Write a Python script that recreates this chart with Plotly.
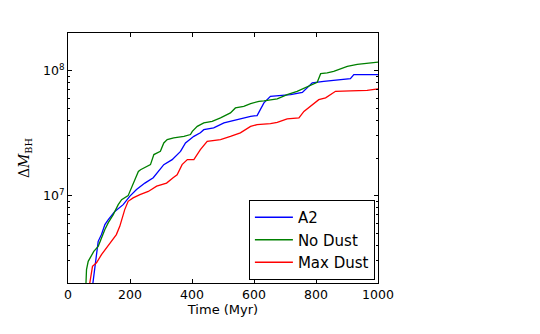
import plotly.graph_objects as go

# time (Myr) and cumulative black hole mass growth
t_a2 = [74, 86.5, 91.9, 97.4, 108, 119, 130, 151, 178, 199, 221, 248, 275, 296, 309, 336, 363, 379,
        406, 427, 438, 470, 503, 546, 589, 610, 632, 653, 686, 718, 756, 772, 788, 825, 868, 911,
        922, 954, 1000]
m_a2 = [1.5e6, 2.72e6, 3.19e6, 4.31e6, 4.88e6, 5.86e6, 6.43e6, 7.48e6, 8.47e6, 9.87e6, 1.12e7,
        1.26e7, 1.39e7, 1.61e7, 1.77e7, 1.94e7, 2.26e7, 2.64e7, 2.98e7, 3.18e7, 3.37e7, 3.48e7,
        3.82e7, 4.06e7, 4.31e7, 4.37e7, 5.52e7, 6.22e7, 6.31e7, 6.43e7, 6.70e7, 7.28e7, 7.98e7,
        8.20e7, 8.47e7, 8.63e7, 9.29e7, 9.34e7, 9.29e7]

t_nodust = [56, 59.7, 65.2, 75.8, 83.2, 97.4, 108, 119, 130, 146, 162, 173, 194, 205, 215, 227, 234,
            266, 277, 298, 309, 320, 341, 374, 395, 401, 417, 438, 465, 492, 524, 540, 567, 589,
            616, 632, 675, 707, 739, 772, 804, 815, 836, 857, 879, 901, 933, 965, 1000]
m_nodust = [1.5e6, 2.56e6, 2.98e6, 3.31e6, 3.58e6, 3.93e6, 4.61e6, 5.35e6, 6.08e6, 7.05e6, 8.47e6,
            9.29e6, 1.0e7, 1.16e7, 1.34e7, 1.56e7, 1.61e7, 1.77e7, 2.13e7, 2.26e7, 2.64e7, 2.81e7,
            2.90e7, 2.98e7, 3.08e7, 3.27e7, 3.58e7, 3.82e7, 3.93e7, 4.19e7, 4.59e7, 5.03e7, 5.18e7,
            5.45e7, 5.68e7, 5.72e7, 5.94e7, 6.43e7, 6.83e7, 7.41e7, 8.06e7, 9.46e7, 9.59e7, 9.87e7,
            1.04e8, 1.08e8, 1.12e8, 1.15e8, 1.17e8]

t_maxdust = [66, 70.3, 79, 91.9, 108, 124, 140, 156, 167, 183, 194, 210, 232, 259, 286, 318, 339,
             352, 368, 385, 406, 427, 449, 492, 524, 556, 589, 610, 653, 675, 707, 745, 761, 788,
             809, 831, 863, 911, 965, 1000]
m_maxdust = [1.5e6, 2.0e6, 2.72e6, 2.90e6, 3.37e6, 3.84e6, 4.31e6, 4.88e6, 5.68e6, 7.73e6, 9.0e6,
             9.59e6, 1.02e7, 1.08e7, 1.19e7, 1.26e7, 1.39e7, 1.47e7, 1.77e7, 1.94e7, 1.94e7, 2.33e7,
             2.72e7, 2.81e7, 2.98e7, 3.18e7, 3.58e7, 3.70e7, 3.77e7, 3.85e7, 4.11e7, 4.19e7, 4.72e7,
             5.35e7, 5.86e7, 6.05e7, 6.83e7, 6.89e7, 6.95e7, 7.14e7]

series = [("A2", t_a2, m_a2, "#0000ff"),
          ("No Dust", t_nodust, m_nodust, "#008000"),
          ("Max Dust", t_maxdust, m_maxdust, "#ff0000")]

fig = go.Figure()
for name, t, m, col in series:
    fig.add_trace(go.Scatter(x=t, y=m, mode="lines", name=name,
                             line=dict(color=col, width=1.3)))

minor_vals = [k * 10**e for e in (6, 7) for k in range(2, 10)] + [2e8]
axis_common = dict(showline=True, linecolor="black", linewidth=1, mirror="ticks",
                   ticks="inside", tickcolor="black", ticklen=4, showgrid=False,
                   zeroline=False, automargin=False,
                   tickfont=dict(size=12.5, color="black"))

fig.update_xaxes(range=[0, 1000], tickvals=[0, 200, 400, 600, 800, 1000],
                 title=dict(text="Time (Myr)", font=dict(size=13, color="black"), standoff=2),
                 **axis_common)
fig.update_yaxes(type="log", range=[6.301, 8.301], tickvals=[1e7, 1e8],
                 ticktext=["10<sup>7</sup>", "10<sup>8</sup>"],
                 minor=dict(tickvals=minor_vals, ticks="inside", ticklen=2, tickcolor="black"),
                 title=dict(text="Δ<i>M</i><sub>BH</sub>",
                            font=dict(size=14, color="black", family="DejaVu Serif"),
                            standoff=10),
                 **axis_common)

# the page body adds an 8px offset, so the margins are trimmed on top/left
fig.update_layout(
    width=540, height=334,
    margin=dict(l=60, r=170, t=25, b=59),
    paper_bgcolor="white", plot_bgcolor="white",
    font=dict(family="DejaVu Sans", color="black"),
    legend=dict(x=0.99, y=0.012, xanchor="right", yanchor="bottom",
                bordercolor="black", borderwidth=1, bgcolor="white",
                itemwidth=38, font=dict(size=15), tracegroupgap=0),
)

fig.write_html("out.html")
